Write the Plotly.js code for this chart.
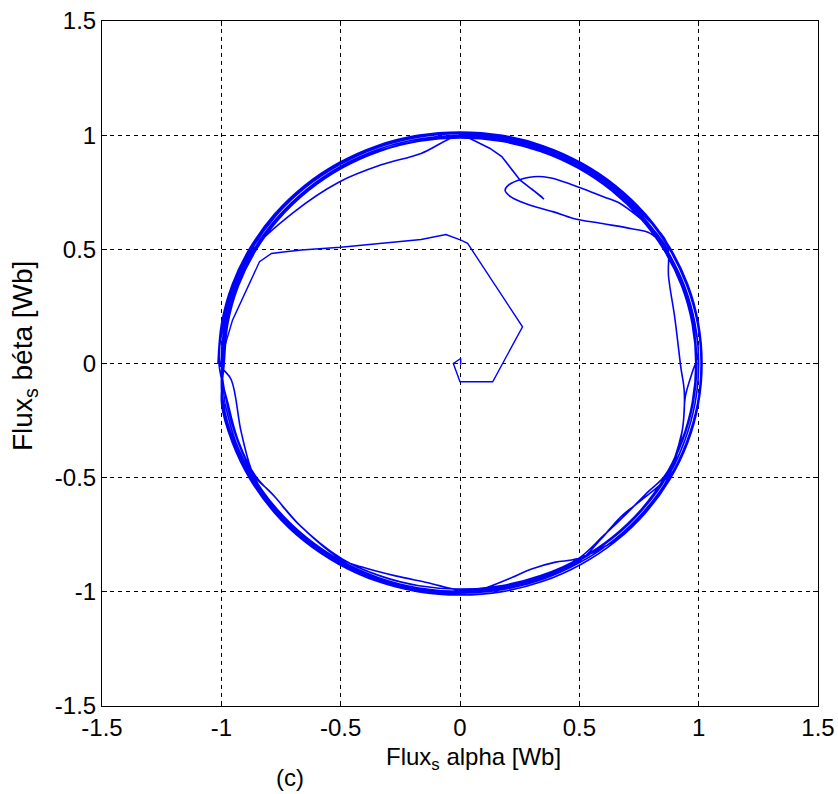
<!DOCTYPE html>
<html>
<head>
<meta charset="utf-8">
<script src="https://cdn.plot.ly/plotly-3.0.1.min.js"></script>
<style>html,body{margin:0;padding:0;background:#fff;}#chart{width:838px;height:794px;}</style>
</head>
<body>
<div id="chart"></div>
<script>
// Start-up transient of the stator flux (alpha, beta) in Wb
const transientX = [0.003, 0.003, -0.028, 0.0, 0.137, 0.262, 0.032, 0.004, -0.059, -0.163, -0.5, -0.665, -0.749, -0.79, -0.84, -0.9, -0.953, -0.99, -0.998, -0.985];
const transientY = [-0.005, 0.022, 0.0, -0.08, -0.08, 0.161, 0.526, 0.54, 0.565, 0.543, 0.509, 0.497, 0.487, 0.482, 0.446, 0.31, 0.19, 0.06, -0.05, -0.174];

// Orbit 1 (with top-right excursion loop and top-left chord)
const orbit1X = [-0.985,-0.94,-0.866,-0.766,-0.643,-0.5,-0.342,-0.174,0,0.174,0.342,0.5,0.59,0.674,0.77,0.866,0.94,0.985,1,0.985,0.94,0.866,0.82,0.75,0.671,0.601,0.532,0.475,0.434,0.392,0.35,0.308,0.266,0.203,0.189,0.203,0.238,0.322,0.392,0.475,0.588,0.72,0.797,0.867,0.766,0.643,0.5,0.342,0.174,0,-0.163,-0.33,-0.506,-0.7,-0.866,-0.94,-0.985,-1];
const orbit1Y = [-0.174,-0.342,-0.5,-0.643,-0.766,-0.866,-0.94,-0.985,-1,-0.985,-0.94,-0.866,-0.77,-0.671,-0.59,-0.5,-0.342,-0.174,0,0.174,0.342,0.5,0.575,0.64,0.701,0.73,0.759,0.781,0.796,0.81,0.818,0.818,0.81,0.781,0.759,0.738,0.716,0.684,0.664,0.635,0.614,0.59,0.57,0.504,0.643,0.766,0.866,0.94,0.985,1,0.92,0.87,0.795,0.66,0.5,0.342,0.174,0];

// Orbit 2 (lenses bottom-left and bottom)
const orbit2X = [-0.977,-0.932,-0.859,-0.79,-0.665,-0.496,-0.414,-0.27,-0.134,0,0.173,0.339,0.496,0.638,0.76,0.859,0.932,0.977,0.992,0.977,0.932,0.859,0.76,0.638,0.496,0.339,0.172,0,-0.172,-0.339,-0.496,-0.638,-0.76,-0.859,-0.932,-0.977,-0.992];
const orbit2Y = [-0.173,-0.339,-0.496,-0.567,-0.715,-0.859,-0.89,-0.93,-0.96,-0.992,-0.977,-0.932,-0.859,-0.76,-0.638,-0.496,-0.339,-0.173,0,0.172,0.339,0.496,0.638,0.76,0.859,0.932,0.977,0.992,0.977,0.932,0.859,0.76,0.638,0.496,0.339,0.172,0];

// Orbit 3 (right-hand chord)
const orbit3X = [-0.991,-0.946,-0.871,-0.771,-0.647,-0.503,-0.344,-0.175,0,0.175,0.344,0.503,0.647,0.771,0.871,0.927,0.94,0.925,0.9,0.874,0.866,0.771,0.647,0.503,0.344,0.175,0,-0.175,-0.344,-0.503,-0.647,-0.771,-0.871,-0.946,-0.991,-1.006];
const orbit3Y = [-0.175,-0.344,-0.503,-0.647,-0.771,-0.871,-0.946,-0.991,-1.006,-0.991,-0.946,-0.871,-0.771,-0.647,-0.503,-0.32,-0.13,-0.015,0.2,0.379,0.53,0.647,0.771,0.871,0.946,0.991,1.006,0.991,0.946,0.871,0.771,0.647,0.503,0.344,0.175,0];

// Orbit 4 (left chord, right-hand V)
const orbit4X = [-0.958,-0.916,-0.862,-0.764,-0.641,-0.499,-0.341,-0.173,0,0.173,0.341,0.499,0.641,0.764,0.864,0.93,0.945,0.976,0.998,0.983,0.938,0.864,0.764,0.641,0.499,0.341,0.173,0,-0.173,-0.341,-0.499,-0.641,-0.764,-0.864,-0.938,-0.983,-0.998];
const orbit4Y = [-0.072,-0.304,-0.497,-0.641,-0.764,-0.864,-0.938,-0.983,-0.998,-0.983,-0.938,-0.864,-0.764,-0.641,-0.499,-0.3,-0.14,-0.03,0.04,0.173,0.341,0.499,0.641,0.764,0.864,0.938,0.983,0.998,0.983,0.938,0.864,0.764,0.641,0.499,0.341,0.173,0];

// Orbit 5 (bottom-right lens)
const orbit5X = [-0.995,-0.949,-0.875,-0.774,-0.649,-0.505,-0.345,-0.176,0,0.1,0.2,0.3,0.4,0.49,0.649,0.774,0.875,0.949,0.995,1.01,0.995,0.949,0.875,0.774,0.649,0.505,0.345,0.176,0,-0.176,-0.345,-0.505,-0.649,-0.774,-0.875,-0.949,-0.995,-1.01];
const orbit5Y = [-0.176,-0.345,-0.505,-0.649,-0.774,-0.875,-0.949,-0.995,-1.01,-0.985,-0.945,-0.9,-0.87,-0.855,-0.774,-0.649,-0.505,-0.345,-0.176,0,0.176,0.345,0.505,0.649,0.774,0.875,0.949,0.995,1.01,0.995,0.949,0.875,0.774,0.649,0.505,0.345,0.176,0];

// Orbit 6 (bottom-right chord, bottom-left lens)
const orbit6X = [-0.973,-0.929,-0.856,-0.775,-0.68,-0.494,-0.338,-0.172,0,0.172,0.338,0.494,0.6,0.7,0.79,0.856,0.929,0.973,0.988,0.973,0.929,0.856,0.757,0.635,0.494,0.338,0.172,0,-0.172,-0.338,-0.494,-0.635,-0.757,-0.856,-0.929,-0.973,-0.988];
const orbit6Y = [-0.172,-0.338,-0.494,-0.585,-0.7,-0.856,-0.929,-0.973,-0.988,-0.973,-0.929,-0.856,-0.755,-0.655,-0.56,-0.494,-0.338,-0.172,0,0.172,0.338,0.494,0.635,0.757,0.856,0.929,0.973,0.988,0.973,0.929,0.856,0.757,0.635,0.494,0.338,0.172,0];

// Orbit 7 (steady state, outer edge of the band)
const orbit7X = [-0.999,-0.954,-0.879,-0.778,-0.653,-0.508,-0.347,-0.177,0,0.177,0.347,0.508,0.653,0.778,0.879,0.954,0.999,1.014,0.999,0.954,0.879,0.778,0.653,0.508,0.347,0.177,0,-0.177,-0.347,-0.508,-0.653,-0.778,-0.879,-0.954,-0.999,-1.014];
const orbit7Y = [-0.177,-0.347,-0.508,-0.653,-0.778,-0.879,-0.954,-0.999,-1.014,-0.999,-0.954,-0.879,-0.778,-0.653,-0.508,-0.347,-0.177,0,0.177,0.347,0.508,0.653,0.778,0.879,0.954,0.999,1.014,0.999,0.954,0.879,0.778,0.653,0.508,0.347,0.177,0];

// Straight spike from the top of the circle to the inner loop
const spikeX = [0.352, 0.30, 0.345, 0.252, 0.175, 0.126, 0.042, 0.0];
const spikeY = [0.72, 0.765, 0.728, 0.803, 0.906, 0.942, 0.985, 1.0];

const tickVals = [-1.5, -1, -0.5, 0, 0.5, 1, 1.5];
const tickText = ['-1.5', '-1', '-0.5', '0', '0.5', '1', '1.5'];

const orbitX = [].concat(orbit1X, orbit2X, orbit3X, orbit4X, orbit5X, orbit6X, orbit7X);
const orbitY = [].concat(orbit1Y, orbit2Y, orbit3Y, orbit4Y, orbit5Y, orbit6Y, orbit7Y);

const FONT = '"Liberation Sans", Arial, sans-serif';
const BLUE = '#0000ff';

const axisCommon = {
  range: [-1.5, 1.5],
  tickmode: 'array',
  tickvals: tickVals,
  ticktext: tickText,
  showgrid: true,
  gridcolor: '#000000',
  griddash: '4px,4px',
  gridwidth: 1,
  zeroline: false,
  showline: true,
  linecolor: '#000000',
  linewidth: 1,
  mirror: 'ticks',
  ticks: 'inside',
  ticklen: 5,
  tickcolor: '#000000',
  tickfont: {family: FONT, size: 24, color: '#000000'}
};

const data = [
  {x: transientX, y: transientY, type: 'scatter', mode: 'lines',
   line: {color: BLUE, width: 1.4}, hoverinfo: 'skip'},
  {x: orbitX, y: orbitY, type: 'scatter', mode: 'lines',
   line: {color: BLUE, width: 1.6, shape: 'spline', smoothing: 1}, hoverinfo: 'skip'},
  {x: spikeX, y: spikeY, type: 'scatter', mode: 'lines',
   line: {color: BLUE, width: 1.6}, hoverinfo: 'skip'}
];

const layout = {
  width: 838, height: 794,
  margin: {l: 102, r: 20, t: 21, b: 88},
  paper_bgcolor: '#ffffff',
  plot_bgcolor: '#ffffff',
  showlegend: false,
  xaxis: Object.assign({}, axisCommon),
  yaxis: Object.assign({}, axisCommon),
  annotations: [
    {text: 'Flux<sub>s</sub> alpha [Wb]', xref: 'paper', yref: 'paper',
     x: (473 - 102) / 716, y: (706 - 758) / 685, xanchor: 'center', yanchor: 'middle',
     showarrow: false, font: {family: FONT, size: 24, color: '#000'}},
    {text: 'Flux<sub>s</sub> béta [Wb]', xref: 'paper', yref: 'paper', textangle: -90,
     x: (25 - 102) / 716, y: (706 - 356) / 685, xanchor: 'center', yanchor: 'middle',
     showarrow: false, font: {family: FONT, size: 28, color: '#000'}},
    {text: '(c)', xref: 'paper', yref: 'paper', x: (290 - 102) / 716, y: (706 - 777) / 685,
     yanchor: 'middle', xanchor: 'center', showarrow: false,
     font: {family: FONT, size: 24, color: '#000'}}
  ]
};

Plotly.newPlot('chart', data, layout, {displayModeBar: false, staticPlot: true});
</script>
</body>
</html>
